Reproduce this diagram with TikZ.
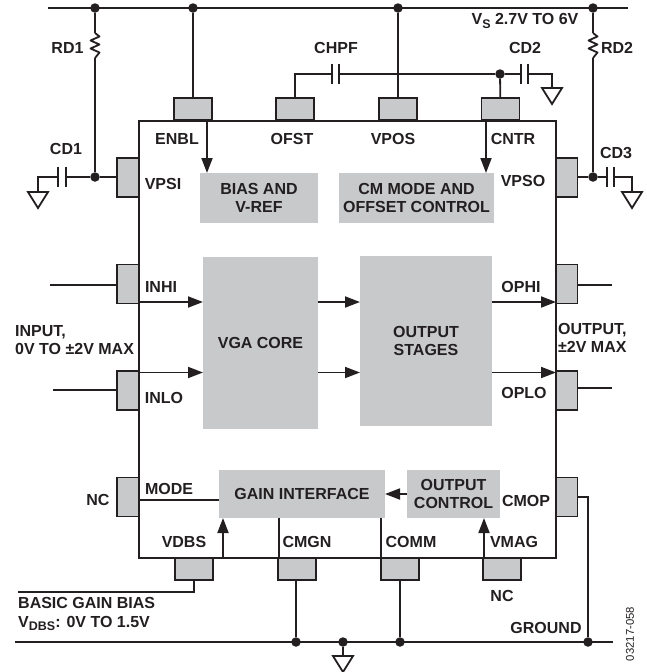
\documentclass[tikz,border=0pt]{standalone}
\usepackage{xcolor}
\usepackage{fontspec}
\setmainfont{Liberation Sans}
\usetikzlibrary{arrows.meta}

\definecolor{blockgray}{HTML}{C8C9CB}
\definecolor{inkdark}{HTML}{231F20}
\newcommand{\lowtxt}[1]{\raisebox{-3.5pt}{\fontsize{12.5}{12.5}\selectfont #1}}

\tikzset{
  wire/.style={draw=inkdark, line width=1.8pt},
  flow/.style={wire, -{Triangle[length=15pt,width=11pt]}},
  lbl/.style={font=\fontsize{16}{18.5}\selectfont\bfseries, text=inkdark, inner sep=0pt, align=center},
  lblleft/.style={lbl, align=left, anchor=west},
  blockbox/.style={fill=blockgray, inner sep=0pt, outer sep=0pt, font=\fontsize{16}{18.5}\selectfont\bfseries, text=inkdark, align=center},
  horizpin/.style={draw=inkdark, fill=blockgray, line width=1.7pt, minimum width=38pt, minimum height=22pt, inner sep=0pt, outer sep=0pt},
  vertpin/.style={draw=inkdark, fill=blockgray, line width=1.7pt, minimum width=22pt, minimum height=39pt, inner sep=0pt, outer sep=0pt},
  dot/.style={circle, fill=inkdark, minimum size=9.5pt, inner sep=0pt, outer sep=0pt},
  gndsym/.pic={\draw[wire] (-10,0) -- (10,0) -- (0,16) -- cycle;},
  capsym/.pic={\draw[wire] (-3.7,-10) -- (-3.7,10) (3.7,-10) -- (3.7,10);},
  ressym/.pic={\draw[wire, line join=round] (0,-12.5) -- (4.5,-9) -- (-4.5,-5) -- (4.5,-1) -- (-4.5,3) -- (4.5,7) -- (0,12.5);}
}

\begin{document}
\begin{tikzpicture}[x=1pt,y=-1pt]
\useasboundingbox (0,0) rectangle (647,672);

% Pins on the top side
\node[horizpin] (pinENBL) at (193,109) {};
\node[horizpin] (pinOFST) at (295,109) {};
\node[horizpin] (pinVPOS) at (398,109) {};
\node[horizpin] (pinCNTR) at (500.5,109) {};

% Pins on the left side
\node[vertpin] (pinVPSI) at (128,177.5) {};
\node[vertpin] (pinINHI) at (128,284) {};
\node[vertpin] (pinINLO) at (128,390.5) {};
\node[vertpin] (pinNCL) at (128,497) {};

% Pins on the right side
\node[vertpin] (pinVPSO) at (566.5,177.5) {};
\node[vertpin] (pinOPHI) at (566.5,284) {};
\node[vertpin] (pinOPLO) at (566.5,390.5) {};
\node[vertpin] (pinCMOP) at (566.5,497) {};

% Pins on the bottom side
\node[horizpin] (pinVDBS) at (194,569) {};
\node[horizpin] (pinCMGN) at (297,569) {};
\node[horizpin] (pinCOMM) at (400,569) {};
\node[horizpin] (pinVMAG) at (502,569) {};

% Chip outline
\node[draw=inkdark, line width=2.2pt, minimum width=417pt, minimum height=437pt, inner sep=0pt, outer sep=0pt] (chip) at (347.5,339.5) {};

% Blocks
\node[blockbox, minimum width=118pt, minimum height=50pt] (blkBias) at (259,198) {BIAS AND\\V-REF};
\node[blockbox, minimum width=155pt, minimum height=50pt] (blkCM) at (416.5,198) {CM MODE AND\\OFFSET CONTROL};
\node[blockbox, minimum width=115pt, minimum height=172pt] (blkVGA) at (260.5,343) {VGA CORE};
\node[blockbox, minimum width=132pt, minimum height=170pt] (blkOut) at (426,341) {OUTPUT\\STAGES};
\node[blockbox, minimum width=166pt, minimum height=48pt] (blkGain) at (302,494) {GAIN INTERFACE};
\node[blockbox, minimum width=93pt, minimum height=48pt] (blkCtrl) at (453.5,494) {OUTPUT\\CONTROL};

% Supply rail
\coordinate (railL) at (48,8);
\coordinate (railR) at (628,8);
\draw[wire] (railL) -- (railR);
\node[dot] (dotRD1) at (95,8) {};
\node[dot] (dotENBL) at (193,8) {};
\node[dot] (dotVPOS) at (398,8) {};
\node[dot] (dotRD2) at (593,8) {};
\draw[wire] (dotENBL) -- (pinENBL);
\draw[wire] (dotVPOS) -- (pinVPOS);

% RD1 and CD1
\node[dot] (dotCD1) at (95,177) {};
\coordinate (rd1Top) at (95,33);
\coordinate (rd1Bot) at (95,58);
\pic at (95,45.5) {ressym};
\draw[wire] (dotRD1) -- (rd1Top);
\draw[wire] (rd1Bot) -- (dotCD1);
\draw[wire] (pinVPSI.west |- dotCD1) -- (dotCD1);
\coordinate (cd1R) at (66,177);
\coordinate (cd1L) at (58,177);
\coordinate (gnd1) at (38,192);
\pic at (62,176.5) {capsym};
\draw[wire] (dotCD1) -- (cd1R);
\draw[wire] (cd1L) -| (gnd1);
\pic at (gnd1) {gndsym};

% RD2 and CD3
\node[dot] (dotCD3) at (593,177) {};
\coordinate (rd2Top) at (593,33);
\coordinate (rd2Bot) at (593,58);
\pic at (593,45.5) {ressym};
\draw[wire] (dotRD2) -- (rd2Top);
\draw[wire] (rd2Bot) -- (dotCD3);
\draw[wire] (pinVPSO.east |- dotCD3) -- (dotCD3);
\coordinate (cd3L) at (607,177);
\coordinate (cd3R) at (614,177);
\coordinate (gnd3) at (632,192);
\pic at (610.5,176.5) {capsym};
\draw[wire] (dotCD3) -- (cd3L);
\draw[wire] (cd3R) -| (gnd3);
\pic at (gnd3) {gndsym};

% CHPF and CD2
\node[dot] (dotCNTR) at (500,74) {};
\coordinate (chpfL) at (332,74);
\coordinate (chpfR) at (339,74);
\coordinate (cd2L) at (521,74);
\coordinate (cd2R) at (528,74);
\coordinate (gnd2) at (552,88);
\pic at (335.5,73.5) {capsym};
\pic at (524.5,73.5) {capsym};
\draw[wire] (pinOFST) |- (chpfL);
\draw[wire] (chpfR) -- (dotCNTR);
\draw[wire] (dotCNTR) -- (pinCNTR);
\draw[wire] (dotCNTR) -- (cd2L);
\draw[wire] (cd2R) -| (gnd2);
\pic at (gnd2) {gndsym};

% Ground rail
\coordinate (gndL) at (15,642);
\coordinate (gndR) at (613,642);
\draw[wire] (gndL) -- (gndR);
\node[dot] (dotCMGN) at (296,642) {};
\node[dot] (dotGnd) at (343,642) {};
\node[dot] (dotCOMM) at (400,642) {};
\node[dot] (dotCMOP) at (588,642) {};
\coordinate (gnd4) at (343,656);
\draw[wire] (dotGnd) -- (gnd4);
\pic at (gnd4) {gndsym};
\draw[wire] (pinCMGN.south -| dotCMGN) -- (dotCMGN);
\draw[wire] (pinCOMM) -- (dotCOMM);
\draw[wire] (pinCMOP.east) -| (dotCMOP);

% Signals at the input and output pins
\coordinate (inhiEnd) at (50,285);
\coordinate (inloEnd) at (53,390);
\coordinate (ophiEnd) at (612,285);
\coordinate (oploEnd) at (612,388);
\draw[wire] (inhiEnd) -- (inhiEnd -| pinINHI.west);
\draw[wire] (inloEnd) -- (inloEnd -| pinINLO.west);
\draw[wire] (ophiEnd) -- (ophiEnd -| pinOPHI.east);
\draw[wire] (oploEnd) -- (oploEnd -| pinOPLO.east);

% Basic gain bias
\coordinate (biasEnd) at (18,592);
\draw[wire] (pinVDBS) |- (biasEnd);

% Arrows inside the chip
\coordinate (enblIn) at (207,122);
\coordinate (cntrIn) at (486,122);
\coordinate (sigHi) at (139,302);
\coordinate (sigLo) at (139,372.5);
\coordinate (vdbsIn) at (223,558);
\coordinate (vmagIn) at (484,558);
\coordinate (cmgnIn) at (279,558);
\coordinate (commIn) at (381,558);
\coordinate (modeIn) at (139,500);
\draw[flow] (enblIn) -- (enblIn |- blkBias.north);
\draw[flow] (cntrIn) -- (cntrIn |- blkCM.north);
\draw[flow] (sigHi) -- (sigHi -| blkVGA.west);
\draw[flow] (sigLo) -- (sigLo -| blkVGA.west);
\draw[flow] (sigHi -| blkVGA.east) -- (sigHi -| blkOut.west);
\draw[flow] (sigLo -| blkVGA.east) -- (sigLo -| blkOut.west);
\draw[flow] (sigHi -| blkOut.east) -- (sigHi -| chip.east);
\draw[flow] (sigLo -| blkOut.east) -- (sigLo -| chip.east);
\draw[flow] (blkCtrl) -- (blkGain);
\draw[flow] (vdbsIn) -- (vdbsIn |- blkGain.south);
\draw[flow] (vmagIn) -- (vmagIn |- blkCtrl.south);
\draw[wire] (cmgnIn) -- (cmgnIn |- blkGain.south);
\draw[wire] (commIn) -- (commIn |- blkGain.south);
\draw[wire] (modeIn) -- (modeIn -| blkGain.west);

% Labels
\node[lbl] (lblRD1) at (67.5,48) {RD1};
\node[lbl] (lblRD2) at (617,48) {RD2};
\node[lbl] (lblCD1) at (66,149) {CD1};
\node[lbl] (lblCD2) at (525,48) {CD2};
\node[lbl] (lblCD3) at (616,153) {CD3};
\node[lbl] (lblCHPF) at (336,48) {CHPF};
\node[lbl] (lblVS) at (525,21) {V\lowtxt{S} 2.7V TO 6V};
\node[lbl] (lblENBL) at (177,139) {ENBL};
\node[lbl] (lblOFST) at (292,139) {OFST};
\node[lbl] (lblVPOS) at (393,139) {VPOS};
\node[lbl] (lblCNTR) at (513,139) {CNTR};
\node[lbl] (lblVPSI) at (163,184) {VPSI};
\node[lbl] (lblVPSO) at (523,181) {VPSO};
\node[lbl] (lblINHI) at (161,287) {INHI};
\node[lbl] (lblINLO) at (164,398) {INLO};
\node[lbl] (lblOPHI) at (521,287) {OPHI};
\node[lbl] (lblOPLO) at (524,393) {OPLO};
\node[lblleft] (lblInput) at (15,340) {INPUT,\\0V TO \textpm 2V MAX};
\node[lblleft] (lblOutput) at (558,338) {OUTPUT,\\\textpm 2V MAX};
\node[lbl] (lblNCL) at (98,500) {NC};
\node[lbl] (lblMODE) at (169,489) {MODE};
\node[lbl] (lblVDBS) at (184,542) {VDBS};
\node[lbl] (lblCMGN) at (307,542) {CMGN};
\node[lbl] (lblCOMM) at (411,542) {COMM};
\node[lbl] (lblVMAG) at (514,542) {VMAG};
\node[lbl] (lblNCB) at (502,596) {NC};
\node[lbl] (lblCMOP) at (526,501) {CMOP};
\node[lbl] (lblGROUND) at (546,628) {GROUND};
\node[lblleft] (lblBias) at (18,614) {BASIC GAIN BIAS\\V\lowtxt{DBS}: 0V TO 1.5V};
\node[font=\fontsize{11.3}{13}\selectfont, text=inkdark, inner sep=0pt, rotate=90] (lblCode) at (630,634) {03217-058};

\end{tikzpicture}
\end{document}
